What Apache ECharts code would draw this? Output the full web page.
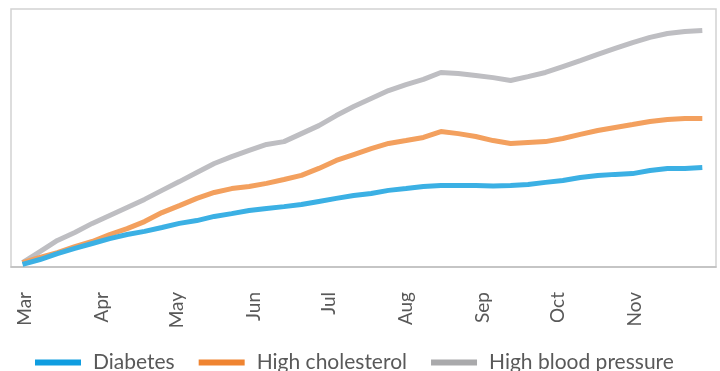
<!DOCTYPE html>
<html>
<head>
<meta charset="utf-8">
<style>
  html, body { margin: 0; padding: 0; background: #ffffff; }
  #chart { width: 720px; height: 371px; }
</style>
<script src="https://cdn.jsdelivr.net/npm/echarts@6/dist/echarts.min.js"></script>
</head>
<body>
<div id="chart"></div>
<script>
// Weekly reporting dates
const weeks = [
  '2020-02-29', '2020-03-07', '2020-03-14', '2020-03-21', '2020-03-28',
  '2020-04-04', '2020-04-11', '2020-04-18', '2020-04-25', '2020-05-02',
  '2020-05-09', '2020-05-16', '2020-05-23', '2020-05-30', '2020-06-06',
  '2020-06-13', '2020-06-20', '2020-06-27', '2020-07-04', '2020-07-11',
  '2020-07-18', '2020-07-25', '2020-08-01', '2020-08-08', '2020-08-15',
  '2020-08-22', '2020-08-29', '2020-09-05', '2020-09-12', '2020-09-19',
  '2020-09-26', '2020-10-03', '2020-10-10', '2020-10-17', '2020-10-24',
  '2020-10-31', '2020-11-07', '2020-11-14', '2020-11-21', '2020-11-28'
];

const diabetes = [
  1.0, 2.9, 5.2, 7.2, 9.1, 11.0, 12.6, 13.8, 15.3, 16.9,
  18.0, 19.6, 20.7, 21.9, 22.7, 23.4, 24.2, 25.4, 26.6, 27.7,
  28.5, 29.7, 30.4, 31.2, 31.6, 31.6, 31.6, 31.4, 31.6, 32.0,
  32.8, 33.5, 34.7, 35.5, 35.9, 36.2, 37.4, 38.2, 38.2, 38.6
];

const highCholesterol = [
  1.7, 3.7, 5.6, 7.9, 9.9, 12.6, 14.9, 17.6, 21.1, 23.8,
  26.6, 28.9, 30.4, 31.2, 32.4, 33.9, 35.5, 38.2, 41.3, 43.6,
  45.9, 47.9, 49.0, 50.2, 52.5, 51.7, 50.6, 49.0, 47.9, 48.3,
  48.6, 49.8, 51.4, 52.9, 54.1, 55.2, 56.4, 57.2, 57.6, 57.6
];

const highBloodPressure = [
  1.7, 6.0, 10.3, 13.4, 16.9, 20.0, 23.1, 26.2, 29.7, 33.1,
  36.6, 40.1, 42.8, 45.2, 47.5, 48.6, 51.7, 54.8, 58.7, 62.2,
  65.3, 68.4, 70.7, 72.7, 75.4, 75.0, 74.2, 73.4, 72.3, 73.8,
  75.4, 77.7, 80.0, 82.4, 84.7, 87.0, 89.0, 90.5, 91.3, 91.7
];

// Month tick labels, placed on the first day of each month
const monthLabels = ['Mar', 'Apr', 'May', 'Jun', 'Jul', 'Aug', 'Sep', 'Oct', 'Nov'];
const monthStarts = ['2020-03-01', '2020-04-01', '2020-05-01', '2020-06-01', '2020-07-01',
                     '2020-08-01', '2020-09-01', '2020-10-01', '2020-11-01'];

const seriesNames = ['Diabetes', 'High cholesterol', 'High blood pressure'];
const lineColors = ['#3bb0e4', '#f3a05e', '#bebec2'];
const legendColors = ['#0f9de0', '#ef8431', '#a9a9ab'];

// Day offsets measured from 1 March
const DAY = 86400000;
const origin = Date.UTC(2020, 2, 1);
const toDay = s => {
  const [y, m, d] = s.split('-').map(Number);
  return Math.round((Date.UTC(y, m - 1, d) - origin) / DAY);
};
const weekDays = weeks.map(toDay);
const tickDays = monthStarts.map(toDay);

const pair = vals => vals.map((v, i) => [weekDays[i], v]);
const seriesData = [diabetes, highCholesterol, highBloodPressure];

const FONT = 'Lato, "Open Sans", sans-serif';
const chart = echarts.init(document.getElementById('chart'), null, { renderer: 'canvas' });

chart.setOption({
  animation: false,
  backgroundColor: '#ffffff',
  grid: {
    left: 11, right: 4, top: 9, bottom: 104,
    show: true, borderColor: '#d2d2d2', borderWidth: 1.5
  },
  legend: {
    left: 35, bottom: -2, padding: 0,
    icon: 'rect', itemWidth: 46, itemHeight: 6, itemGap: 24,
    textStyle: { fontFamily: FONT, fontSize: 21, color: '#595959', padding: [0, 0, 0, 7] },
    data: seriesNames.map((n, i) => ({ name: n, itemStyle: { color: legendColors[i] } }))
  },
  xAxis: {
    type: 'value',
    min: -5.63, max: 277.5,
    axisLine: { show: true, lineStyle: { color: '#bdbdbd', width: 1.5 } },
    axisTick: { show: false },
    splitLine: { show: false },
    axisLabel: {
      customValues: tickDays,
      rotate: 90,
      margin: 25,
      fontFamily: FONT,
      fontSize: 19,
      color: '#595959',
      formatter: v => monthLabels[tickDays.indexOf(Math.round(v))] || ''
    }
  },
  yAxis: {
    type: 'value', min: 0, max: 100,
    show: false, splitLine: { show: false }
  },
  series: seriesNames.map((n, i) => ({
    name: n,
    type: 'line',
    data: pair(seriesData[i]),
    showSymbol: false,
    symbol: 'none',
    lineStyle: { color: lineColors[i], width: 5 },
    itemStyle: { color: lineColors[i] },
    z: 3 - i
  }))
});
</script>
</body>
</html>
